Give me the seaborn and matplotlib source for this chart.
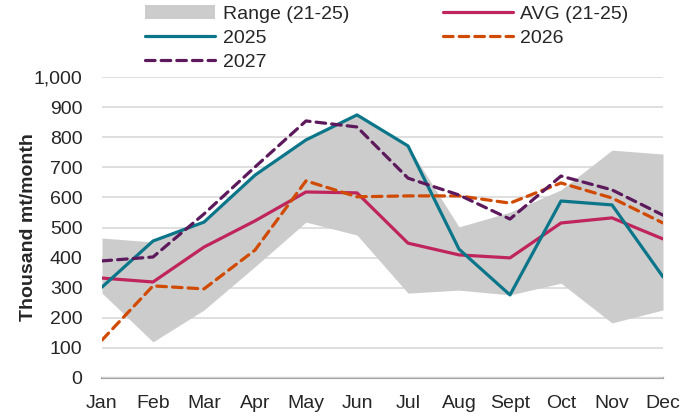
import numpy as np
import pandas as pd
import matplotlib
matplotlib.use('Agg')
import matplotlib.pyplot as plt
import seaborn as sns

# Monthly values, thousand mt/month
months = ['Jan', 'Feb', 'Mar', 'Apr', 'May', 'Jun', 'Jul', 'Aug', 'Sept', 'Oct', 'Nov', 'Dec']
range_low = [282, 120, 226, 370, 518, 475, 282, 292, 276, 315, 183, 226]
range_high = [465, 452, 522, 674, 791, 874, 771, 502, 551, 625, 757, 744]
avg_21_25 = [332, 319, 435, 522, 618, 615, 448, 409, 399, 515, 532, 462]
y2025 = [302, 455, 518, 674, 791, 874, 771, 428, 276, 588, 575, 336]
y2026 = [126, 306, 296, 425, 655, 602, 605, 605, 581, 648, 598, 515]
y2027 = [389, 402, 545, 701, 854, 834, 664, 608, 528, 671, 625, 541]

sns.set_style('white')
plt.rcParams['font.family'] = ['Liberation Sans', 'DejaVu Sans']

x = np.arange(len(months))
df = pd.DataFrame({'x': x, 'AVG (21-25)': avg_21_25, '2025': y2025,
                   '2026': y2026, '2027': y2027})

fig = plt.figure(figsize=(6.99, 4.16), dpi=100)
ax = fig.add_axes([102 / 699, 1 - 378 / 416, (663 - 102) / 699, (378 - 77) / 416])

band = ax.fill_between(x, range_low, range_high, color='#CCCCCC', lw=0,
                       label='Range (21-25)', zorder=1)

styles = {
    'AVG (21-25)': dict(color='#C0245C', dashes=None),
    '2025': dict(color='#0B7689', dashes=None),
    '2026': dict(color='#D04A02', dashes=(3.0, 1.9)),
    '2027': dict(color='#5C1A5C', dashes=(3.0, 1.9)),
}
handles = {}
for name, st in styles.items():
    sns.lineplot(data=df, x='x', y=name, ax=ax, color=st['color'], lw=2.3,
                 label=name, zorder=3, legend=False)
    line = ax.lines[-1]
    line.set_solid_capstyle('round')
    if st['dashes'] is not None:
        line.set_dashes(st['dashes'])
        line.set_dash_capstyle('round')
    handles[name] = line

ax.set_xlim(0, 11)
ax.set_ylim(0, 1000)
ax.set_yticks(range(0, 1001, 100))
ax.set_yticklabels(['{:,}'.format(v) for v in range(0, 1001, 100)], fontsize=14)
ax.set_xticks(x)
ax.set_xticklabels(months, fontsize=14)
ax.tick_params(axis='x', length=0, pad=12)
ax.tick_params(axis='y', length=0, pad=14)
ax.set_xlabel('')
ax.set_ylabel('Thousand mt/month', fontsize=14, fontweight='bold', labelpad=-2)

ax.grid(axis='y', color='#D9D9D9', lw=1.2, zorder=0)
ax.set_axisbelow(True)
for s in ['top', 'right', 'left']:
    ax.spines[s].set_visible(False)
ax.spines['bottom'].set_color('#A6A6A6')
ax.spines['bottom'].set_linewidth(1.6)
ax.spines['bottom'].set_zorder(0.5)

order = [band, handles['2025'], handles['2027'], handles['AVG (21-25)'], handles['2026']]
labels = ['Range (21-25)', '2025', '2027', 'AVG (21-25)', '2026']
fig.legend(order, labels, loc='upper left', bbox_to_anchor=(0.188, 1.02), ncol=2,
           frameon=False, fontsize=14, handlelength=3.6, handletextpad=0.4,
           labelspacing=0.33, columnspacing=4.8, borderpad=0.2)

fig.savefig('out.png', dpi=100)
